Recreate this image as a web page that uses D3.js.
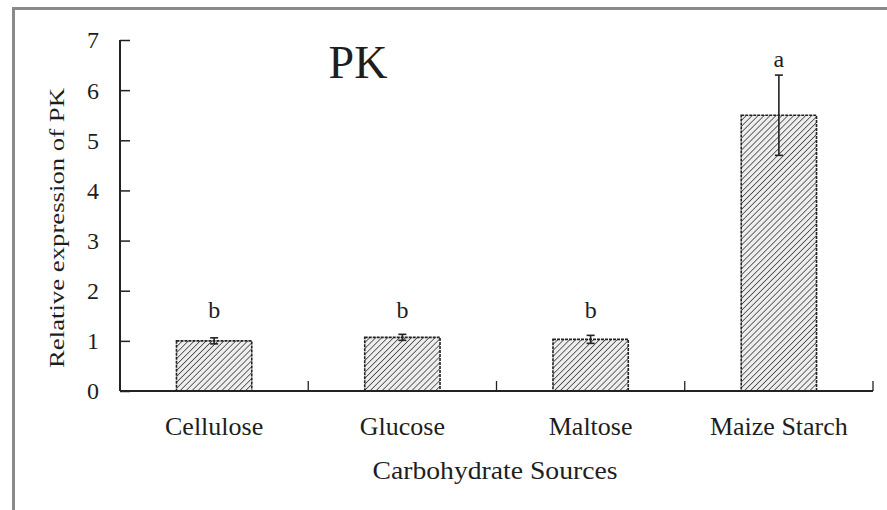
<!DOCTYPE html>
<html>
<head>
<meta charset="utf-8">
<script src="https://cdn.jsdelivr.net/npm/d3@7/dist/d3.min.js"></script>
<style>
  body { margin: 0; background: #fff; }
  text { font-family: "Liberation Serif", "DejaVu Serif", serif; fill: #1e1e1e; }
</style>
</head>
<body>
<div id="chart"></div>
<script>
var categories = ["Cellulose", "Glucose", "Maltose", "Maize Starch"];
var means = [1.0, 1.07, 1.03, 5.5];
var errors = [0.06, 0.06, 0.08, 0.8];
var letters = ["b", "b", "b", "a"];
var yTicks = [0, 1, 2, 3, 4, 5, 6, 7];

var W = 887, H = 510;
var plotLeft = 120, plotRight = 873, plotTop = 40, plotBottom = 391;

var svg = d3.select("#chart")
  .append("svg")
  .attr("width", W)
  .attr("height", H);

// outer frame (runs off the right and bottom edges)
svg.append("rect")
  .attr("x", 13.5).attr("y", 8.5)
  .attr("width", 1000).attr("height", 1000)
  .attr("fill", "none")
  .attr("stroke", "#8a8a8a")
  .attr("stroke-width", 3);

var defs = svg.append("defs");
var pat = defs.append("pattern")
  .attr("id", "hatch")
  .attr("patternUnits", "userSpaceOnUse")
  .attr("width", 4.2).attr("height", 4.2)
  .attr("patternTransform", "rotate(45)");
pat.append("rect").attr("width", 4.2).attr("height", 4.2).attr("fill", "#eeeeee");
pat.append("line")
  .attr("x1", 0).attr("y1", 0).attr("x2", 0).attr("y2", 4.2)
  .attr("stroke", "#444").attr("stroke-width", 1.6);

var x = d3.scaleBand()
  .domain(categories)
  .range([plotLeft, plotRight])
  .paddingInner(0.6)
  .paddingOuter(0.3);

var y = d3.scaleLinear()
  .domain([0, 7])
  .range([plotBottom, plotTop]);

// y axis, ticks pointing inward
var yAxis = svg.append("g")
  .attr("transform", "translate(" + plotLeft + ",0)")
  .call(d3.axisRight(y).tickValues(yTicks).tickSize(10).tickFormat(""));
yAxis.select(".domain").attr("stroke", "#222").attr("stroke-width", 2).attr("d", "M0," + plotTop + "V" + plotBottom);
yAxis.selectAll(".tick line").attr("stroke", "#222").attr("stroke-width", 1.5);

svg.selectAll(".ylab")
  .data(yTicks)
  .enter().append("text")
  .attr("class", "ylab")
  .attr("x", 93)
  .attr("y", function(d) { return y(d); })
  .attr("dy", "0.35em")
  .attr("text-anchor", "middle")
  .attr("font-size", 24)
  .text(function(d) { return d; });

// bars
svg.selectAll(".bar")
  .data(categories)
  .enter().append("rect")
  .attr("class", "bar")
  .attr("x", function(d) { return x(d); })
  .attr("y", function(d, i) { return y(means[i]); })
  .attr("width", x.bandwidth())
  .attr("height", function(d, i) { return y(0) - y(means[i]); })
  .attr("fill", "url(#hatch)")
  .attr("stroke", "#222")
  .attr("stroke-width", 1.6)
  .attr("stroke-dasharray", "3,1");

// x axis with category separator ticks
var step = (plotRight - plotLeft) / categories.length;
var seps = d3.range(1, categories.length + 1).map(function(i) { return plotLeft + i * step; });
svg.append("line")
  .attr("x1", plotLeft).attr("x2", plotRight)
  .attr("y1", plotBottom).attr("y2", plotBottom)
  .attr("stroke", "#222").attr("stroke-width", 2);
svg.selectAll(".sep")
  .data(seps)
  .enter().append("line")
  .attr("x1", function(d) { return d; }).attr("x2", function(d) { return d; })
  .attr("y1", plotBottom).attr("y2", plotBottom - 10)
  .attr("stroke", "#222").attr("stroke-width", 1.3);

// error bars
var eb = svg.selectAll(".err")
  .data(categories)
  .enter().append("g")
  .attr("class", "err");
eb.append("line")
  .attr("x1", function(d) { return x(d) + x.bandwidth() / 2; })
  .attr("x2", function(d) { return x(d) + x.bandwidth() / 2; })
  .attr("y1", function(d, i) { return y(means[i] - errors[i]); })
  .attr("y2", function(d, i) { return y(means[i] + errors[i]); })
  .attr("stroke", "#222").attr("stroke-width", 1.6);
[1, -1].forEach(function(s) {
  eb.append("line")
    .attr("x1", function(d) { return x(d) + x.bandwidth() / 2 - 4; })
    .attr("x2", function(d) { return x(d) + x.bandwidth() / 2 + 4; })
    .attr("y1", function(d, i) { return y(means[i] + s * errors[i]); })
    .attr("y2", function(d, i) { return y(means[i] + s * errors[i]); })
    .attr("stroke", "#222").attr("stroke-width", 1.6);
});

// significance letters
svg.selectAll(".letter")
  .data(categories)
  .enter().append("text")
  .attr("class", "letter")
  .attr("x", function(d) { return x(d) + x.bandwidth() / 2; })
  .attr("y", function(d, i) { return Math.min(y(means[i] + errors[i]) - 8, 318); })
  .attr("text-anchor", "middle")
  .attr("font-size", 24)
  .text(function(d, i) { return letters[i]; });

// category labels
svg.selectAll(".xlab")
  .data(categories)
  .enter().append("text")
  .attr("class", "xlab")
  .attr("x", function(d) { return x(d) + x.bandwidth() / 2; })
  .attr("y", 435)
  .attr("text-anchor", "middle")
  .attr("font-size", 26)
  .text(function(d) { return d; });

svg.append("text")
  .attr("x", 495)
  .attr("y", 479)
  .attr("text-anchor", "middle")
  .attr("font-size", 25)
  .attr("textLength", 245)
  .attr("lengthAdjust", "spacingAndGlyphs")
  .text("Carbohydrate Sources");

svg.append("text")
  .attr("transform", "translate(64,228) rotate(-90)")
  .attr("text-anchor", "middle")
  .attr("font-size", 22)
  .attr("textLength", 280)
  .attr("lengthAdjust", "spacingAndGlyphs")
  .text("Relative expression of PK");

svg.append("text")
  .attr("x", 358)
  .attr("y", 78)
  .attr("text-anchor", "middle")
  .attr("font-size", 46)
  .attr("fill", "#000")
  .text("PK");
</script>
</body>
</html>
